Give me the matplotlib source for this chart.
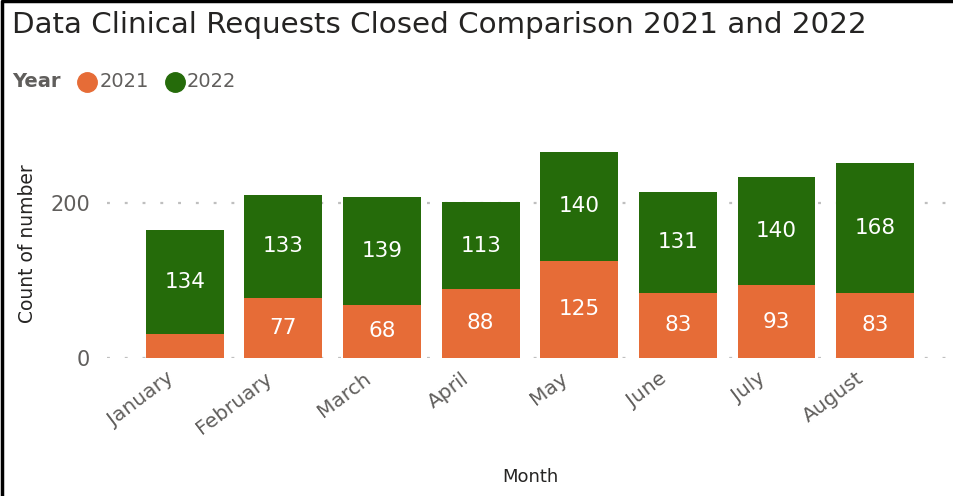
import matplotlib.pyplot as plt
from matplotlib.lines import Line2D
from matplotlib.transforms import ScaledTranslation

# === Data ===
months = ["January", "February", "March", "April", "May", "June", "July", "August"]
closed_2021 = [31, 77, 68, 88, 125, 83, 93, 83]
closed_2022 = [134, 133, 139, 113, 140, 131, 140, 168]

c2021 = "#E66C37"
c2022 = "#256B0A"
grey = "#605E5C"

# === Figure ===
fig = plt.figure(figsize=(9.54, 4.96), dpi=100)
ax = fig.add_axes([0.112, 0.279, 0.887, 0.419])

x = range(len(months))
ax.bar(x, closed_2021, width=0.79, color=c2021)
ax.bar(x, closed_2022, width=0.79, bottom=closed_2021, color=c2022)

# data labels (skip segments too small to hold text)
for i in x:
    lo, hi = closed_2021[i], closed_2022[i]
    if lo >= 40:
        ax.text(i, lo / 2, str(lo), ha="center", va="center", color="white", fontsize=15.5)
    ax.text(i, lo + hi / 2, str(hi), ha="center", va="center", color="white", fontsize=15.5)

ax.set_xlim(-0.79, len(months) - 1 + 0.79)
ax.set_ylim(0, 268)
ax.set_yticks([0, 200])
ax.yaxis.grid(True, linestyle=(0, (1.3, 6.7)), color="#BFBFBF", linewidth=1.6)
ax.set_axisbelow(True)
for s in ax.spines.values():
    s.set_visible(False)
ax.tick_params(length=0)
ax.tick_params(axis="y", labelsize=15, labelcolor=grey, pad=12)
ax.set_xticks(list(x))
ax.set_xticklabels(months, rotation=37, ha="right", rotation_mode="anchor",
                   fontsize=14.5, color=grey)
ax.tick_params(axis="x", pad=8)
shift = ScaledTranslation(-0.19, 0.0, fig.dpi_scale_trans)
for lbl in ax.get_xticklabels():
    lbl.set_transform(lbl.get_transform() + shift)
ax.set_ylabel("Count of number", fontsize=13.5, color="#252423")
ax.yaxis.set_label_coords(-0.083, 0.55)
ax.set_xlabel("Month", fontsize=13, color="#252423", labelpad=22)

# === Title and legend ===
fig.text(0.013, 0.95, "Data Clinical Requests Closed Comparison 2021 and 2022",
         fontsize=21.2, color="#252423", va="center", ha="left")
fig.text(0.013, 0.835, "Year", fontsize=14, fontweight="bold", color=grey, va="center")
fig.add_artist(Line2D([0.091], [0.835], marker="o", markersize=14, color=c2021,
                      transform=fig.transFigure))
fig.text(0.104, 0.835, "2021", fontsize=14, color=grey, va="center")
fig.add_artist(Line2D([0.183], [0.835], marker="o", markersize=14, color=c2022,
                      transform=fig.transFigure))
fig.text(0.196, 0.835, "2022", fontsize=14, color=grey, va="center")

# frame (top and left edges only)
fig.add_artist(Line2D([0.002, 0.002, 1.0], [0.0, 0.997, 0.997], color="black",
                      linewidth=2.5, transform=fig.transFigure))

fig.savefig("out.png", dpi=100)
